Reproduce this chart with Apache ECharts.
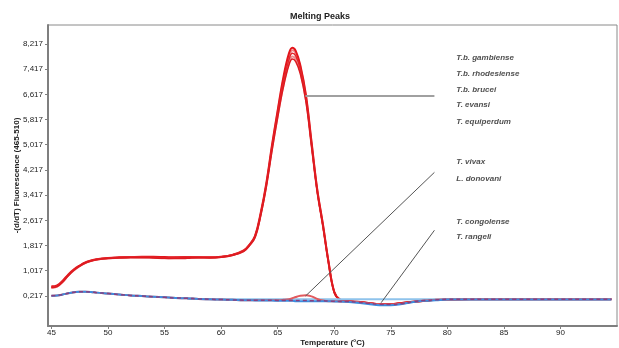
<!DOCTYPE html>
<html>
<head>
<meta charset="utf-8">
<script src="https://cdn.jsdelivr.net/npm/echarts@6/dist/echarts.min.js"></script>
<style>
  html, body { margin: 0; padding: 0; background: #fff; }
  #chart { width: 619px; height: 348px; }
</style>
</head>
<body>
<div id="chart"></div>
<script>
// temperature grid (°C) shared by every curve
const temps = [45, 45.5, 46, 46.5, 47, 47.5, 48, 48.5, 49, 50, 51, 52, 53, 54, 55, 56, 57, 58, 59, 60,
  61, 62, 62.5, 63, 63.5, 64, 64.5, 65, 65.5, 66, 66.3, 66.6, 67, 67.5, 68, 68.5, 69, 69.5, 70, 70.5,
  71, 72, 73, 74, 75, 76, 77, 78, 79, 80, 82, 84, 86, 88, 90, 92, 94.5];

// T. brucei group peaks (5 samples)
const redA = [0.52, 0.55, 0.70, 0.90, 1.06, 1.18, 1.28, 1.34, 1.38, 1.42, 1.44, 1.45, 1.46, 1.46, 1.45, 1.44, 1.45, 1.44, 1.44, 1.46,
  1.52, 1.66, 1.84, 2.12, 2.85, 3.80, 5.00, 6.10, 7.15, 7.92, 8.10, 8.00, 7.55, 6.60, 5.10, 3.60, 2.50, 1.30, 0.35, 0.10,
  0.06, 0.03, -0.01, -0.05, -0.05, -0.01, 0.03, 0.06, 0.09, 0.10, 0.11, 0.11, 0.11, 0.11, 0.11, 0.11, 0.11];
const redB = [0.47, 0.51, 0.66, 0.87, 1.03, 1.16, 1.26, 1.32, 1.37, 1.41, 1.43, 1.44, 1.44, 1.43, 1.41, 1.42, 1.44, 1.43, 1.43, 1.45,
  1.51, 1.64, 1.82, 2.08, 2.80, 3.75, 4.95, 6.05, 7.06, 7.80, 8.02, 7.93, 7.50, 6.55, 5.06, 3.58, 2.47, 1.28, 0.34, 0.10,
  0.06, 0.03, -0.01, -0.05, -0.05, -0.01, 0.03, 0.06, 0.09, 0.10, 0.11, 0.11, 0.11, 0.11, 0.11, 0.11, 0.11];
const redC = [0.50, 0.53, 0.68, 0.88, 1.05, 1.17, 1.27, 1.33, 1.38, 1.42, 1.44, 1.46, 1.45, 1.44, 1.43, 1.44, 1.46, 1.45, 1.44, 1.46,
  1.52, 1.65, 1.83, 2.10, 2.82, 3.76, 4.93, 6.00, 6.98, 7.72, 7.92, 7.84, 7.43, 6.50, 5.03, 3.56, 2.46, 1.28, 0.34, 0.10,
  0.06, 0.03, -0.01, -0.05, -0.05, -0.01, 0.03, 0.06, 0.09, 0.10, 0.11, 0.11, 0.11, 0.11, 0.11, 0.11, 0.11];
const redD = [0.49, 0.52, 0.67, 0.87, 1.04, 1.17, 1.27, 1.33, 1.37, 1.41, 1.43, 1.45, 1.44, 1.44, 1.44, 1.43, 1.44, 1.44, 1.43, 1.45,
  1.51, 1.64, 1.82, 2.09, 2.79, 3.72, 4.87, 5.93, 6.90, 7.63, 7.82, 7.74, 7.35, 6.44, 4.99, 3.54, 2.45, 1.27, 0.34, 0.10,
  0.06, 0.03, -0.01, -0.05, -0.05, -0.01, 0.03, 0.06, 0.09, 0.10, 0.11, 0.11, 0.11, 0.11, 0.11, 0.11, 0.11];
const redE = [0.48, 0.51, 0.66, 0.86, 1.03, 1.16, 1.26, 1.32, 1.36, 1.40, 1.42, 1.43, 1.43, 1.42, 1.41, 1.40, 1.41, 1.43, 1.42, 1.44,
  1.50, 1.63, 1.81, 2.07, 2.76, 3.68, 4.82, 5.87, 6.83, 7.55, 7.74, 7.66, 7.28, 6.39, 4.96, 3.52, 2.44, 1.26, 0.33, 0.09,
  0.06, 0.03, -0.01, -0.05, -0.05, -0.01, 0.03, 0.06, 0.09, 0.10, 0.11, 0.11, 0.11, 0.11, 0.11, 0.11, 0.11];

// T. vivax / L. donovani small bump
const bump = [0.22, 0.23, 0.26, 0.30, 0.33, 0.35, 0.35, 0.34, 0.32, 0.29, 0.26, 0.23, 0.21, 0.19, 0.17, 0.15, 0.14, 0.12, 0.11, 0.10,
  0.09, 0.08, 0.08, 0.08, 0.08, 0.08, 0.08, 0.08, 0.09, 0.11, 0.14, 0.18, 0.22, 0.24, 0.20, 0.12, 0.07, 0.05, 0.05, 0.04,
  0.04, 0.02, -0.02, -0.05, -0.06, -0.03, 0.03, 0.07, 0.09, 0.10, 0.11, 0.11, 0.11, 0.11, 0.11, 0.11, 0.11];
// T. congolense / T. rangeli baseline
const blue = [0.22, 0.23, 0.26, 0.30, 0.33, 0.35, 0.35, 0.34, 0.32, 0.29, 0.26, 0.23, 0.21, 0.19, 0.17, 0.15, 0.14, 0.12, 0.11, 0.10,
  0.09, 0.08, 0.08, 0.07, 0.07, 0.07, 0.07, 0.06, 0.06, 0.06, 0.06, 0.05, 0.05, 0.05, 0.05, 0.05, 0.05, 0.05, 0.04, 0.04,
  0.03, 0.00, -0.04, -0.08, -0.08, -0.04, 0.02, 0.06, 0.08, 0.10, 0.10, 0.10, 0.10, 0.10, 0.10, 0.10, 0.10];
const purple = [0.22, 0.23, 0.26, 0.30, 0.33, 0.35, 0.35, 0.34, 0.32, 0.29, 0.26, 0.23, 0.21, 0.19, 0.17, 0.15, 0.14, 0.12, 0.11, 0.10,
  0.09, 0.08, 0.08, 0.08, 0.08, 0.08, 0.08, 0.07, 0.07, 0.07, 0.07, 0.07, 0.07, 0.07, 0.06, 0.06, 0.06, 0.05, 0.05, 0.04,
  0.04, 0.02, -0.02, -0.05, -0.06, -0.03, 0.03, 0.07, 0.09, 0.11, 0.11, 0.11, 0.11, 0.11, 0.11, 0.11, 0.11];
// negative control, flat
const control = [null, null, null, null, null, null, null, null, null, null, null, null, null, null, null, null, 0.12, 0.12, 0.11, 0.11,
  0.11, 0.11, 0.11, 0.11, 0.11, 0.11, 0.11, 0.11, 0.11, 0.11, 0.11, 0.11, 0.11, 0.11, 0.11, 0.11, 0.11, 0.11, 0.11, 0.11,
  0.11, 0.11, 0.11, 0.11, 0.11, 0.11, 0.11, 0.11, 0.11, 0.11, 0.11, 0.11, 0.11, 0.11, 0.11, 0.11, 0.11];

const xTicks = [45, 50, 55, 60, 65, 70, 75, 80, 85, 90];
const yTicks = [0.217, 1.017, 1.817, 2.617, 3.417, 4.217, 5.017, 5.817, 6.617, 7.417, 8.217];

// species annotations
const labelNames = ['T.b. gambiense', 'T.b. rhodesiense', 'T.b. brucei', 'T. evansi', 'T. equiperdum',
  'T. vivax', 'L. donovani', 'T. congolense', 'T. rangeli'];
const labelY = [7.79, 7.28, 6.75, 6.27, 5.76, 4.46, 3.95, 2.56, 2.08];
const labelX = 80.8;

// leader lines [from, to] in data coords
const leaders = [
  [[67.46, 6.56], [78.86, 6.56]],
  [[67.46, 0.21], [78.86, 4.14]],
  [[74.15, 0.0], [78.86, 2.30]]
];

const pair = (ys) => temps.map((t, i) => [t, ys[i]]);

const lineSeries = (name, ys, color, width, dashed) => ({
  name,
  type: 'line',
  data: pair(ys),
  showSymbol: false,
  smooth: 0.4,
  silent: true,
  connectNulls: false,
  lineStyle: { color, width, type: dashed ? [4, 3] : 'solid' },
  animation: false
});

const chart = echarts.init(document.getElementById('chart'));

const axisFont = "'Liberation Sans Narrow', 'Liberation Sans', Arial, sans-serif";
const boldFont = "'Liberation Sans', Arial, sans-serif";

chart.setOption({
  backgroundColor: '#fff',
  animation: false,
  title: {
    text: 'Melting Peaks',
    left: 315,
    textAlign: 'center',
    top: 7,
    textStyle: { fontSize: 9, fontWeight: 'bold', color: '#222', fontFamily: boldFont }
  },
  grid: {
    left: 48, top: 25, right: 2, bottom: 22,
    outerBoundsMode: 'none',
    containLabel: false,
    show: true, borderColor: '#8a8a8a', borderWidth: 1
  },
  xAxis: {
    type: 'value',
    min: 44.7,
    max: 95,
    name: 'Temperature (°C)',
    nameLocation: 'middle',
    nameGap: 13,
    nameMoveOverlap: false,
    nameTextStyle: { fontSize: 8, fontWeight: 'bold', color: '#222', fontFamily: boldFont },
    axisLine: { onZero: false, lineStyle: { color: '#7f7f7f', width: 2 } },
    axisTick: { show: true, length: 3, customValues: xTicks, lineStyle: { color: '#7f7f7f' } },
    axisLabel: { customValues: xTicks, fontSize: 8, color: '#222', margin: 3, fontFamily: axisFont },
    splitLine: { show: false }
  },
  yAxis: {
    type: 'value',
    min: -0.74,
    max: 8.82,
    name: '-(d/dT) Fluorescence (465-510)',
    nameLocation: 'middle',
    nameRotate: 90,
    nameGap: 27,
    nameMoveOverlap: false,
    nameTextStyle: { fontSize: 8, fontWeight: 'bold', color: '#222', fontFamily: boldFont },
    axisLine: { show: true, onZero: false, lineStyle: { color: '#7f7f7f', width: 2 } },
    axisTick: { show: true, length: 3, customValues: yTicks, lineStyle: { color: '#7f7f7f' } },
    axisLabel: {
      customValues: yTicks,
      fontSize: 8,
      color: '#222',
      margin: 5,
      fontFamily: axisFont,
      formatter: (v) => v.toFixed(3).replace('.', ',')
    },
    splitLine: { show: false }
  },
  series: [
    lineSeries('T.b. rhodesiense', redB, '#ef8585', 2, false),
    lineSeries('T. evansi', redD, '#ec9090', 2, false),
    lineSeries('T.b. gambiense', redA, '#e3151b', 2, false),
    lineSeries('T.b. brucei', redC, '#e3262b', 1.5, false),
    lineSeries('T. equiperdum', redE, '#dd1a20', 1.5, false),
    lineSeries('control', control, '#8fc3ec', 2, false),
    lineSeries('T. vivax', bump, '#e25a5e', 2, false),
    lineSeries('T. congolense', blue, '#3b8ee0', 2, false),
    lineSeries('T. rangeli', purple, '#8b3f7e', 1.5, true),
    {
      name: 'labels',
      type: 'scatter',
      silent: true,
      symbolSize: 0,
      data: labelNames.map((n, i) => ({ name: n, value: [labelX, labelY[i]] })),
      label: {
        show: true,
        position: 'right',
        distance: 0,
        formatter: '{b}',
        fontSize: 8,
        fontStyle: 'italic',
        fontWeight: 'bold',
        color: '#222',
        fontFamily: boldFont
      },
      markLine: {
        silent: true,
        symbol: 'none',
        label: { show: false },
        data: leaders.map((l, i) => [
          { coord: l[0], lineStyle: i === 0 ? { color: '#a0a0a0', width: 2, type: 'solid' } : { color: '#555', width: 1, type: 'solid' } },
          { coord: l[1] }
        ])
      }
    }
  ]
});
</script>
</body>
</html>
